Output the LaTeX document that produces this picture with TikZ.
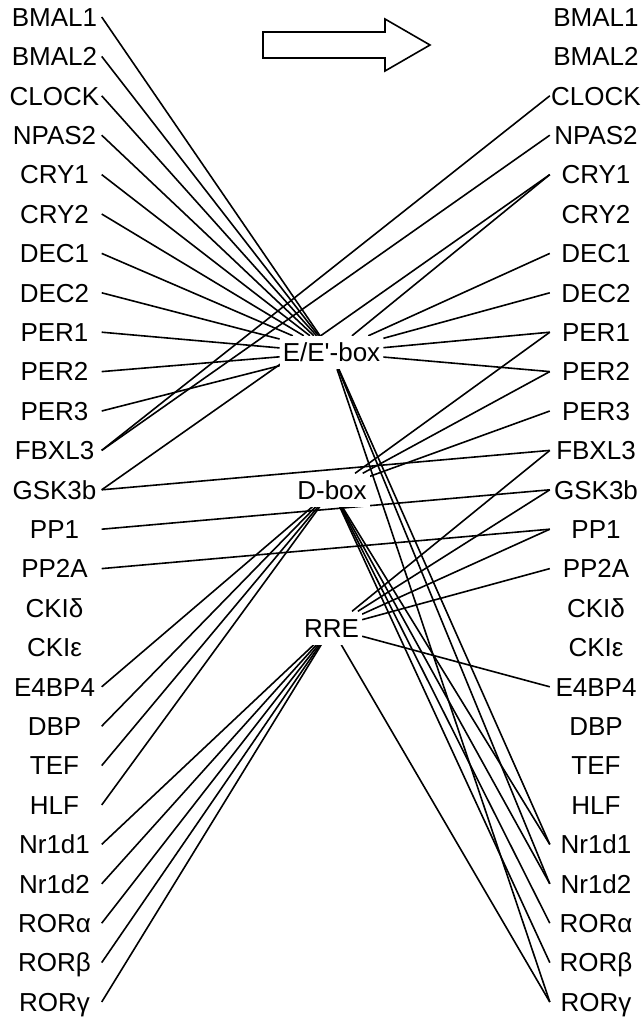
\documentclass[tikz,border=0pt]{standalone}
\usepackage{fontspec}
\setmainfont{Liberation Sans}[Ligatures=TeXOff]
\usetikzlibrary{backgrounds}
\begin{document}
\begin{tikzpicture}[x=1pt,y=-1pt,
  every node/.style={font=\fontsize{26}{26}\selectfont, inner sep=0pt,
    text height=18.7pt, text depth=0pt},
  leftlab/.style={minimum width=94pt},
  rightlab/.style={minimum width=92pt},
  element/.style={fill=white, inner xsep=3pt, minimum height=33pt},
  link/.style={line width=1.6pt}]
\useasboundingbox (0,0) rectangle (642,1017);

% gene columns: regulators on the left, targets on the right
\foreach \g [count=\i from 0] in {BMAL1,BMAL2,CLOCK,NPAS2,CRY1,CRY2,DEC1,DEC2,
  PER1,PER2,PER3,FBXL3,GSK3b,PP1,PP2A,CKIδ,CKIε,E4BP4,DBP,TEF,HLF,
  Nr1d1,Nr1d2,RORα,RORβ,RORγ}{
  \node[leftlab]  (L\i) at (54.5,{17+39.4*\i}) {\g};
  \node[rightlab] (R\i) at (596,{17+39.4*\i}) {\g};
}

% promoter elements
\node[element] (E)   at (331.5,352.5) {E/E'-box};
\node[element] (D)   at (332,490)     {D-box};
\node[element] (RRE) at (331.5,628)   {RRE};

% direction arrow
\draw[line width=1.6pt] (263,32) -- (385,32) -- (385,19) -- (430,45)
  -- (385,71) -- (385,58) -- (263,58) -- cycle;

\begin{pgfonlayer}{background}
  % regulators binding the elements
  \foreach \i in {0,...,10} \draw[link] (L\i.east) -- (E);
  \foreach \i in {17,...,20} \draw[link] (L\i.east) -- (D);
  \foreach \i in {21,...,25} \draw[link] (L\i.east) -- (RRE);
  % elements driving target genes
  \foreach \i in {4,6,7,8,9,21,22,25} \draw[link] (E) -- (R\i.west);
  \foreach \i in {8,9,10,21,22,23,24} \draw[link] (D) -- (R\i.west);
  \foreach \i in {11,12,13,14,17,25} \draw[link] (RRE) -- (R\i.west);
  % direct links between genes
  \draw[link] (L11.east) -- (R2.west);
  \draw[link] (L11.east) -- (R3.west);
  \draw[link] (L12.east) -- (R4.west);
  \draw[link] (L12.east) -- (R11.west);
  \draw[link] (L13.east) -- (R12.west);
  \draw[link] (L14.east) -- (R13.west);
\end{pgfonlayer}
\end{tikzpicture}
\end{document}
